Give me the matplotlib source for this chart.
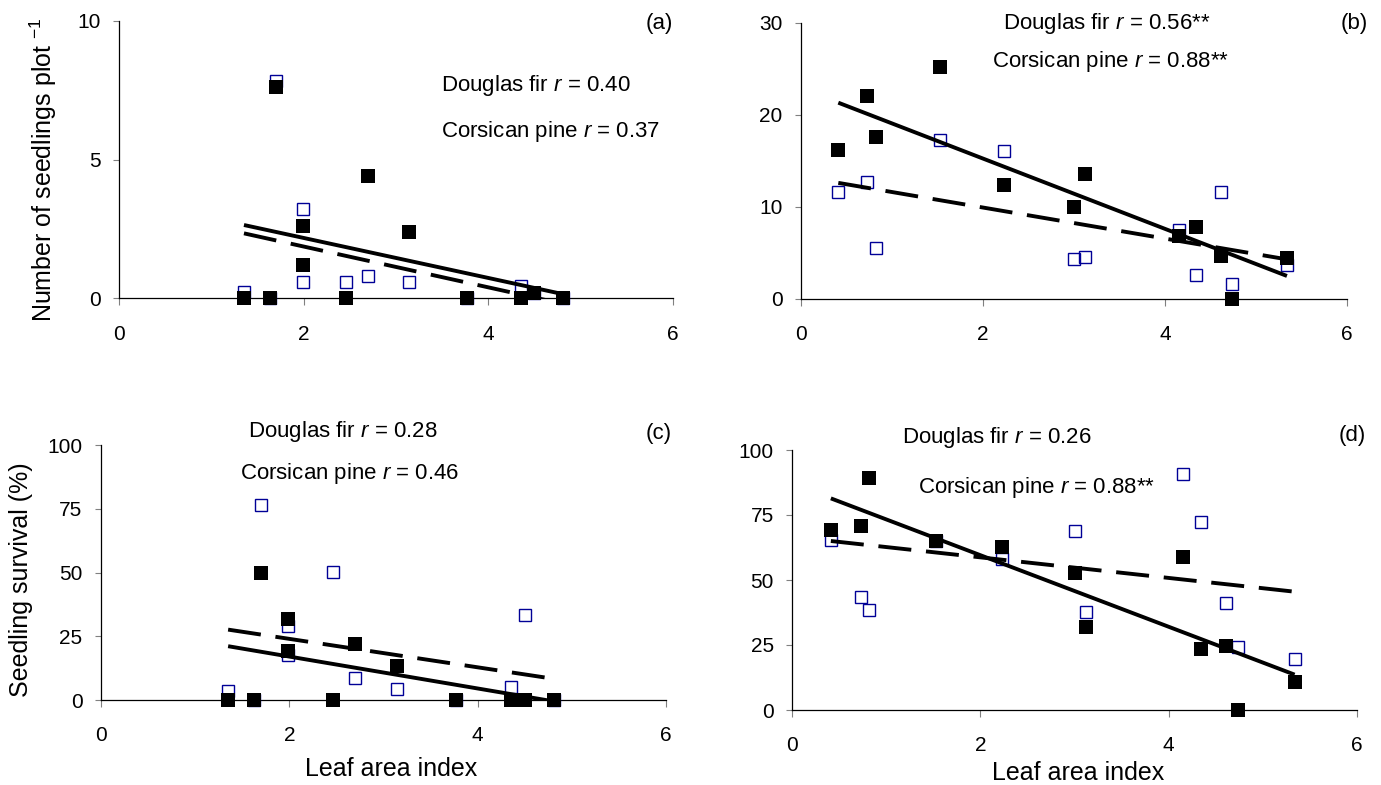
import matplotlib
matplotlib.use("Agg")
import matplotlib.pyplot as plt

plt.rcParams['font.family'] = ['Liberation Sans', 'DejaVu Sans']
plt.rcParams['mathtext.fontset'] = 'custom'
plt.rcParams['mathtext.rm'] = 'Liberation Sans'
plt.rcParams['mathtext.it'] = 'Liberation Sans:italic'

# ---------------- data ----------------
# Leaf area index of plots used in panels (a) and (c)
lai_ac = [1.35, 1.63, 1.70, 1.99, 1.99, 2.46, 2.70, 3.14, 3.77, 4.35, 4.50, 4.81]
# Leaf area index of plots used in panels (b) and (d)
lai_bd = [0.41, 0.73, 0.82, 1.53, 2.23, 3.00, 3.12, 4.155, 4.345, 4.615, 4.74, 5.34]

# (a) number of seedlings per plot
pine_a = [0, 0, 7.61, 2.61, 1.20, 0, 4.41, 2.40, 0, 0, 0.2, 0]
fir_a = [0.24, 0, 7.84, 3.21, 0.60, 0.60, 0.81, 0.60, 0, 0.44, 0.2, 0]
# (b) number of seedlings per plot
pine_b = [16.2, 22.05, 17.6, 25.2, 12.4, 9.97, 13.6, 6.79, 7.77, 4.63, 0, 4.45]
fir_b = [11.6, 12.65, 5.57, 17.24, 16.05, 4.37, 4.55, 7.52, 2.57, 11.6, 1.59, 3.72]
# (c) seedling survival (%)
pine_c = [0, 0, 50, 31.7, 19.1, 0, 22.1, 13.5, 0, 0, 0, 0]
fir_c = [3.5, 0, 76.6, 28.9, 17.8, 50.1, 8.6, 4.2, 0, 5.1, 33.4, 0]
# (d) seedling survival (%)
pine_d = [69.2, 70.6, 89.1, 65.0, 62.7, 52.6, 31.8, 58.8, 23.6, 24.6, 0, 10.9]
fir_d = [65.2, 43.6, 38.5, 65.0, 58.1, 69.0, 37.8, 90.6, 72.4, 41.3, 24.3, 19.6]

# trend lines (values at the ends of the LAI range)
trend_x_ac = [1.35, 4.81]
trend_x_bd = [0.41, 5.34]
trend_pine_a = [2.64, 0.15]
trend_fir_a = [2.34, -0.20]
trend_pine_b = [21.3, 2.5]
trend_fir_b = [12.6, 4.3]
trend_pine_c = [21.1, -0.55]
trend_fir_c = [27.6, 8.3]
trend_pine_d = [81.4, 13.6]
trend_fir_d = [65.0, 45.5]

x_ticks = [0, 2, 4, 6]
y_ticks_a = [0, 5, 10]
y_ticks_b = [0, 10, 20, 30]
y_ticks_cd = [0, 25, 50, 75, 100]

labels_r = {
    'a': ("Douglas fir $r$ = 0.40", "Corsican pine $r$ = 0.37"),
    'b': ("Douglas fir $r$ = 0.56**", "Corsican pine $r$ = 0.88**"),
    'c': ("Douglas fir $r$ = 0.28", "Corsican pine $r$ = 0.46"),
    'd': ("Douglas fir $r$ = 0.26", "Corsican pine $r$ = 0.88**"),
}

# ---------------- figure ----------------
W, H = 1381, 785
fig = plt.figure(figsize=(W / 100, H / 100), dpi=100)

BLUE = '#000096'
TICK_FS = 15
ANN_FS = 16
LAB_FS = 18


def px_axes(l, r, t, b):
    return fig.add_axes([l / W, 1 - b / H, (r - l) / W, (b - t) / H])


def ftext(x, y, s, **kw):
    fig.text(x / W, 1 - y / H, s, **kw)


def panel(ax, x, pine, fir, tx, tp, tf, ymax, yticks, xpad):
    ax.plot(x, fir, ls='none', marker='s', ms=8.0, mfc='none', mec=BLUE,
            mew=1.0, clip_on=False, zorder=3)
    ax.plot(x, pine, ls='none', marker='s', ms=9.4, mfc='black', mec='black',
            mew=0, clip_on=False, zorder=3.5)
    ax.plot(tx, tp, color='black', lw=2.8, solid_capstyle='butt', zorder=4)
    ax.plot(tx, tf, color='black', lw=2.8, dashes=(8.5, 3.8),
            dash_capstyle='butt', zorder=4)
    ax.set_xlim(0, 6)
    ax.set_ylim(0, ymax)
    ax.set_xticks(x_ticks)
    ax.set_yticks(yticks)
    for s in ('top', 'right'):
        ax.spines[s].set_visible(False)
    for s in ('left', 'bottom'):
        ax.spines[s].set_linewidth(0.9)
        ax.spines[s].set_color('black')
    ax.tick_params(axis='y', direction='out', length=4.3, width=0.8,
                   color='#808080', pad=9, labelsize=TICK_FS)
    ax.tick_params(axis='x', direction='out', length=5, width=0.8,
                   color='#808080', pad=xpad, labelsize=TICK_FS)
    ax.set_facecolor('none')


ax_a = px_axes(119.5, 672.7, 20.7, 298.3)
panel(ax_a, lai_ac, pine_a, fir_a, trend_x_ac, trend_pine_a, trend_fir_a,
      10, y_ticks_a, 14.5)
ax_b = px_axes(801, 1347, 22.5, 299)
panel(ax_b, lai_bd, pine_b, fir_b, trend_x_bd, trend_pine_b, trend_fir_b,
      30, y_ticks_b, 13.5)
ax_c = px_axes(101, 666, 445, 700)
panel(ax_c, lai_ac, pine_c, fir_c, trend_x_ac, trend_pine_c, trend_fir_c,
      100, y_ticks_cd, 14)
ax_d = px_axes(792.3, 1356.7, 450, 710)
panel(ax_d, lai_bd, pine_d, fir_d, trend_x_bd, trend_pine_d, trend_fir_d,
      100, y_ticks_cd, 13.5)

# panel letters
ftext(673, 24, "(a)", ha='right', va='center', fontsize=ANN_FS)
ftext(1368, 24, "(b)", ha='right', va='center', fontsize=ANN_FS)
ftext(672, 434, "(c)", ha='right', va='center', fontsize=ANN_FS)
ftext(1366, 436, "(d)", ha='right', va='center', fontsize=ANN_FS)

# correlation annotations
ftext(441, 86, labels_r['a'][0], ha='left', va='center', fontsize=ANN_FS)
ftext(441, 132, labels_r['a'][1], ha='left', va='center', fontsize=ANN_FS)
ftext(1003, 24, labels_r['b'][0], ha='left', va='center', fontsize=ANN_FS)
ftext(992, 62, labels_r['b'][1], ha='left', va='center', fontsize=ANN_FS)
ftext(248, 432, labels_r['c'][0], ha='left', va='center', fontsize=ANN_FS)
ftext(239.5, 473, labels_r['c'][1], ha='left', va='center', fontsize=ANN_FS)
ftext(902, 437, labels_r['d'][0], ha='left', va='center', fontsize=ANN_FS)
ftext(917.7, 487, labels_r['d'][1], ha='left', va='center', fontsize=ANN_FS)

# axis titles
ftext(43, 170, "Number of seedlings plot $^{-1}$", rotation=90,
      ha='center', va='center', fontsize=LAB_FS)
ftext(21, 580, "Seedling survival (%)", rotation=90,
      ha='center', va='center', fontsize=LAB_FS)
ftext(391, 769, "Leaf area index", ha='center', va='center', fontsize=LAB_FS)
ftext(1078, 773, "Leaf area index", ha='center', va='center', fontsize=LAB_FS)

fig.savefig("out.png", dpi=100)
